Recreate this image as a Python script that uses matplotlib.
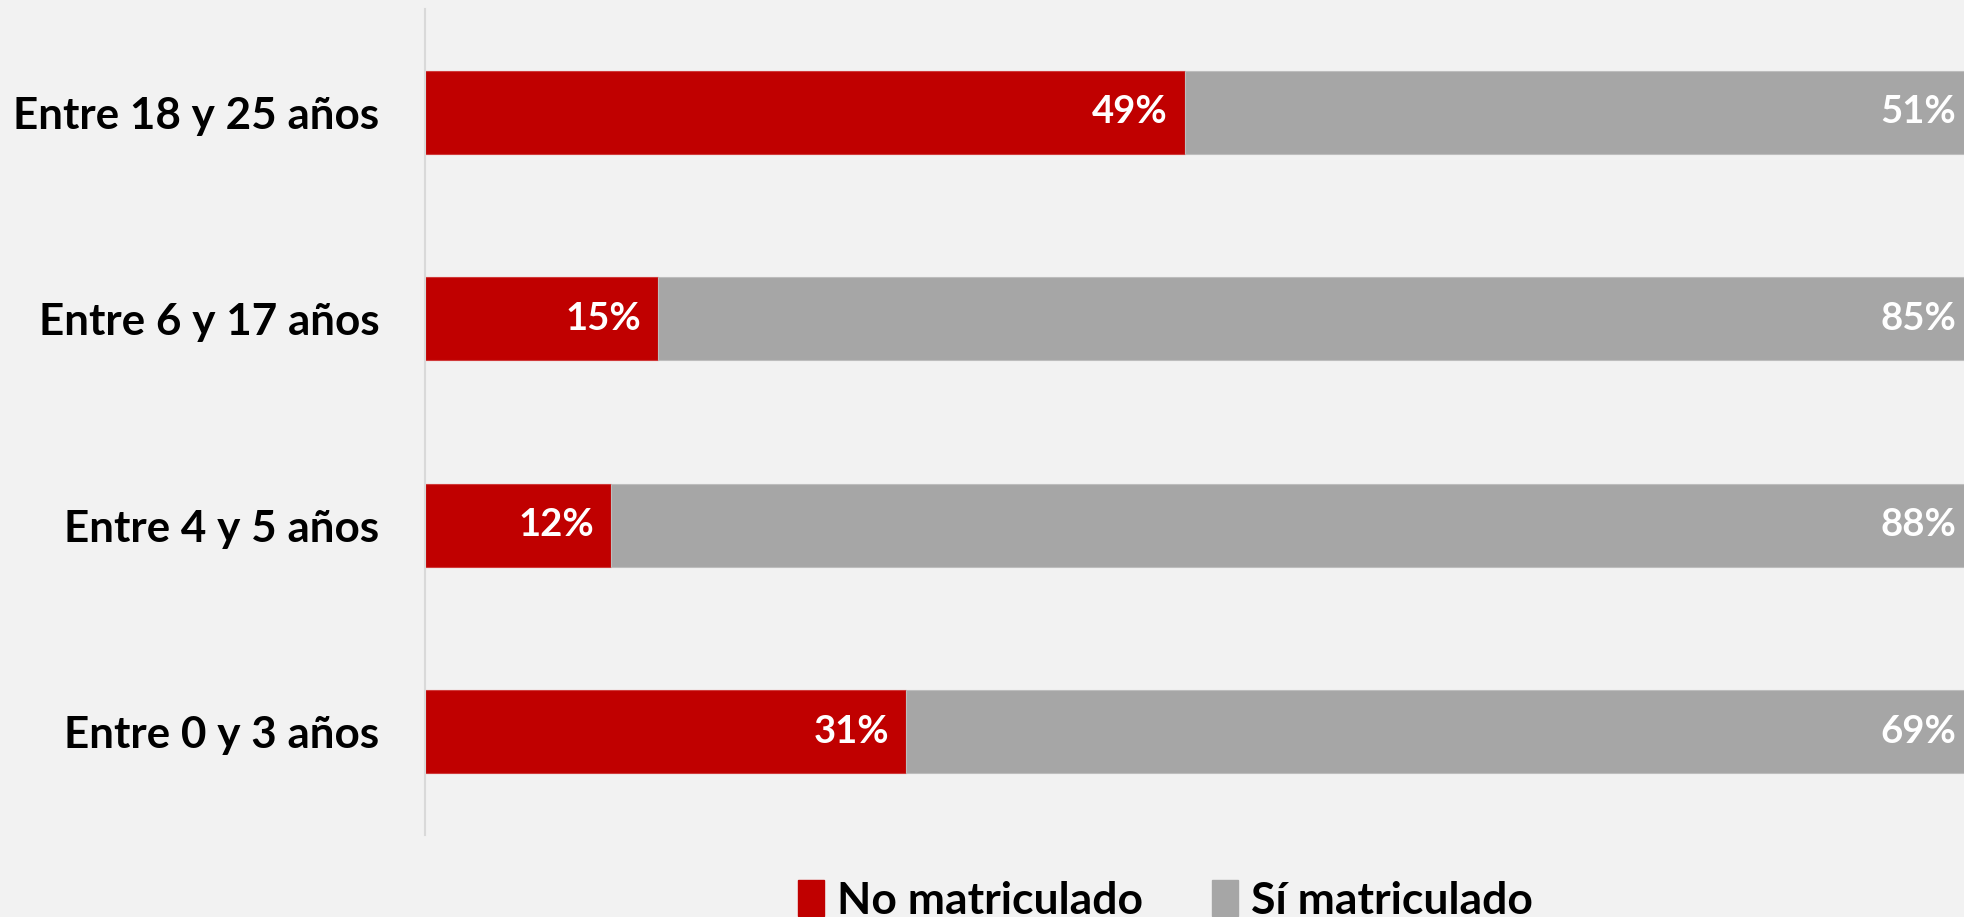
import numpy as np
import matplotlib
matplotlib.use("Agg")
import matplotlib.pyplot as plt
from matplotlib.patches import Patch

plt.rcParams['font.family'] = ['Lato', 'DejaVu Sans']
plt.rcParams['font.weight'] = 'bold'

# data (bottom to top)
categories = ['Entre 0 y 3 años', 'Entre 4 y 5 años', 'Entre 6 y 17 años', 'Entre 18 y 25 años']
no_matriculado = [31, 12, 15, 49]
si_matriculado = [69, 88, 85, 51]
series_names = ['No matriculado', 'Sí matriculado']

RED = '#C00000'
GRAY = '#A6A6A6'
BG = '#F2F2F2'

fig = plt.figure(figsize=(19.65, 9.17), dpi=100, facecolor=BG)
ax = fig.add_axes([0.2163, 0.0894, 0.789, 0.9008], facecolor=BG)

y = np.arange(len(categories))
ax.barh(y, no_matriculado, height=0.4, color=RED, edgecolor='#D03A3A', linewidth=0.8)
ax.barh(y, si_matriculado, left=no_matriculado, height=0.4, color=GRAY,
        edgecolor='#BDBDBD', linewidth=0.8)

# data labels, right aligned inside each segment
for i in range(len(categories)):
    a = no_matriculado[i]
    b = si_matriculado[i]
    ax.annotate('%d%%' % a, xy=(a, i), xytext=(-12, 0), textcoords='offset points',
                ha='right', va='center', color='white', fontsize=27.5, fontweight='bold')
    ax.annotate('%d%%' % b, xy=(a + b, i), xytext=(-14, 0), textcoords='offset points',
                ha='right', va='center', color='white', fontsize=27.5, fontweight='bold',
                annotation_clip=False)

ax.set_xlim(0, 100)
ax.set_ylim(-0.5, 3.5)
ax.set_yticks(y)
ax.set_yticklabels(categories, fontsize=31.7, fontweight='bold')
ax.tick_params(axis='y', length=0, pad=33)
ax.set_xticks([])
for s in ['top', 'right', 'bottom']:
    ax.spines[s].set_visible(False)
ax.spines['left'].set_color('#D9D9D9')
ax.spines['left'].set_linewidth(1.5)

handles = [Patch(facecolor=RED, edgecolor=RED), Patch(facecolor=GRAY, edgecolor=GRAY)]
fig.legend(handles, series_names, loc='center', bbox_to_anchor=(0.593, 0.018),
           ncol=2, frameon=False, prop={'weight': 'bold', 'size': 32},
           handlelength=0.58, handleheight=0.85, handletextpad=0.3, columnspacing=1.55)

fig.savefig('out.png', dpi=100, facecolor=BG)
